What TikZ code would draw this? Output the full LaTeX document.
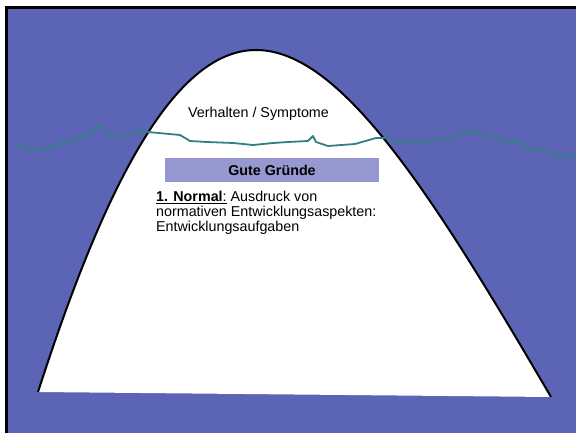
\documentclass[tikz,border=0pt]{standalone}
\usepackage{fontspec}
\setmainfont{Liberation Sans}
\definecolor{SlideBlue}{RGB}{92,100,181}
\definecolor{BarLavender}{RGB}{150,153,208}
\definecolor{WaterTeal}{RGB}{50,128,132}
\usetikzlibrary{positioning}

\begin{document}
\begin{tikzpicture}[x=1pt,y=-1pt,
      lbl/.style={font=\fontsize{14.3}{15}\selectfont,inner sep=0pt},
      bar/.style={fill=BarLavender,minimum width=214pt,minimum height=24pt,inner sep=0pt,
                  font=\fontsize{14.3}{15}\selectfont\bfseries}]
    \useasboundingbox (0,0) rectangle (576,433);
    \fill[SlideBlue] (6.5,7.5) rectangle (590,445);
    \draw[line width=3pt] (590,7.5) -- (6.5,7.5) -- (6.5,445);
    % iceberg
    \fill[white] (38,392) .. controls (100,200) and (170,50) .. (256,50)
                 .. controls (340,50) and (430,190) .. (551,397) -- cycle;
    \draw[line width=2pt] (38,392) .. controls (100,200) and (170,50) .. (256,50)
                 .. controls (340,50) and (430,190) .. (551,397);
    % water line
    \draw[WaterTeal,line width=1.8pt,line join=round,line cap=round] plot coordinates {
      (17,143) (27,149) (43,149) (63,143) (80,138) (90,133) (100,126) (108,133) (112,136)
      (127,135) (140,131) (148,132) (180,135) (190,141) (207,142) (233,143) (253,145)
      (273,143) (288,142) (308,141) (313,136) (316,142) (328,146) (355,144) (376,138)
      (388,138) (401,143) (428,141) (451,138) (465,133) (475,131) (480,134) (495,137)
      (508,142) (521,142) (531,150) (546,151) (555,155) (561,155) (576,157)};
    \node[lbl] (symptome) at (258.5,113.5) {Verhalten / Symptome};
    \node[bar] (gruende) at (272,170) {Gute Gründe};
    \node[lbl,align=left,anchor=north west] (normal) at (156,191)
      {\underline{\textbf{1. Normal}:} Ausdruck von\\ normativen Entwicklungsaspekten:\\ Entwicklungsaufgaben};
  \end{tikzpicture}
\end{document}
